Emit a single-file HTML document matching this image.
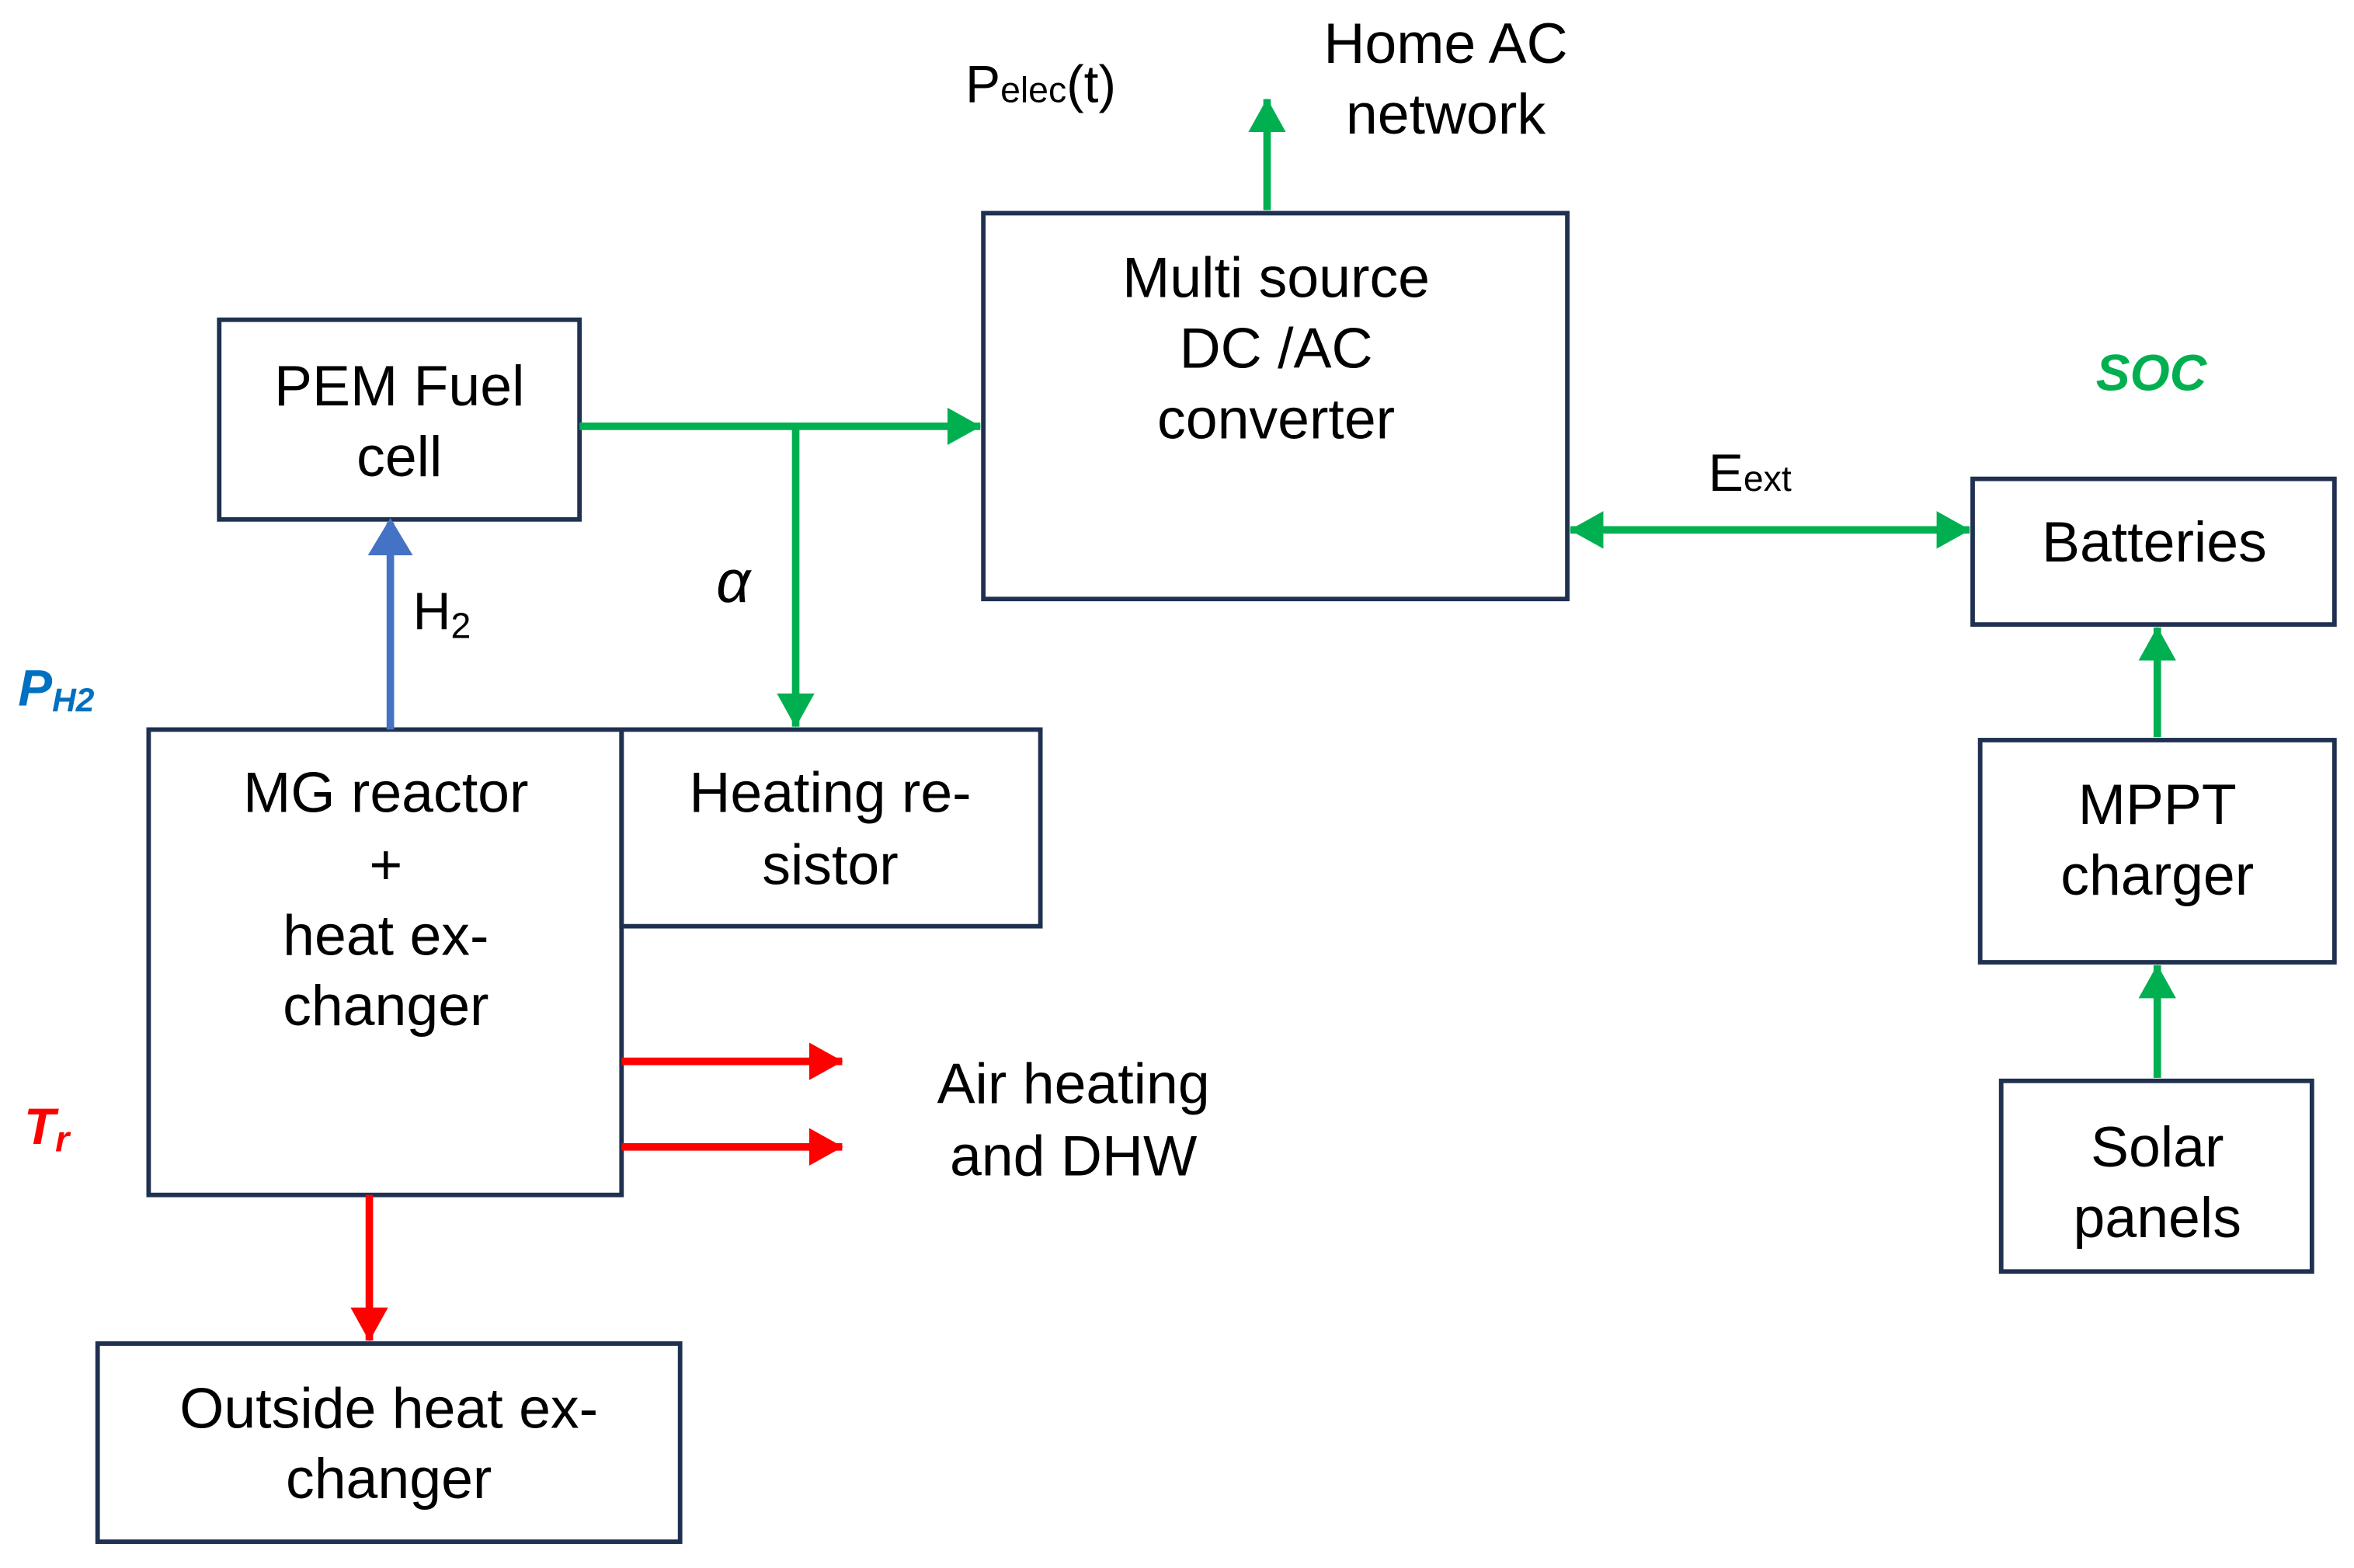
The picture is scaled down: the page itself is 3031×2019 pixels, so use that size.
<!DOCTYPE html>
<html><head><meta charset="utf-8"><style>html,body{margin:0;padding:0;background:#fff}svg{display:block}text{font-family:"Liberation Sans",sans-serif;fill:#000}</style></head>
<body>
<svg width="3031" height="2019" viewBox="0 0 1568 1044.5" xmlns="http://www.w3.org/2000/svg">
<defs>
<marker id="g" markerWidth="5" markerHeight="5" refX="4.4" refY="2.5" orient="auto" markerUnits="strokeWidth"><path d="M0,0 L4.5,2.5 L0,5 z" fill="#00b050"/></marker>
<marker id="gs" markerWidth="5" markerHeight="5" refX="0.6" refY="2.5" orient="auto" markerUnits="strokeWidth"><path d="M5,0 L0.5,2.5 L5,5 z" fill="#00b050"/></marker>
<marker id="b" markerWidth="5" markerHeight="6" refX="4.4" refY="3" orient="auto" markerUnits="strokeWidth"><path d="M0,0 L5,3 L0,6 z" fill="#4472c4"/></marker>
<marker id="r" markerWidth="5" markerHeight="5" refX="4.4" refY="2.5" orient="auto" markerUnits="strokeWidth"><path d="M0,0 L4.5,2.5 L0,5 z" fill="#ff0000"/></marker>
</defs>
<g fill="none" stroke="#1f3050" stroke-width="3">
<rect x="146" y="213" width="240" height="133"/>
<rect x="655" y="142" width="389" height="257"/>
<rect x="1314" y="319" width="241" height="97"/>
<rect x="1319" y="493" width="236" height="148"/>
<rect x="1333" y="720" width="207" height="127"/>
<rect x="99" y="486" width="315" height="310"/>
<rect x="414" y="486" width="279" height="131"/>
<rect x="65" y="895" width="388" height="132"/>
</g>
<g stroke="#00b050" stroke-width="5" fill="none">
<line x1="386" y1="284" x2="653" y2="284" marker-end="url(#g)"/>
<line x1="530" y1="284" x2="530" y2="484" marker-end="url(#g)"/>
<line x1="844" y1="140" x2="844" y2="66" marker-end="url(#g)"/>
<line x1="1046" y1="353" x2="1312" y2="353" marker-end="url(#g)" marker-start="url(#gs)"/>
<line x1="1437" y1="491" x2="1437" y2="418" marker-end="url(#g)"/>
<line x1="1437" y1="718" x2="1437" y2="643" marker-end="url(#g)"/>
</g>
<line x1="260" y1="486" x2="260" y2="348" stroke="#4472c4" stroke-width="5" marker-end="url(#b)"/>
<g stroke="#ff0000" stroke-width="5">
<line x1="414" y1="707" x2="561" y2="707" marker-end="url(#r)"/>
<line x1="414" y1="764" x2="561" y2="764" marker-end="url(#r)"/>
<line x1="246" y1="796" x2="246" y2="893" marker-end="url(#r)"/>
</g>
<g font-size="38" text-anchor="middle">
<text x="266" y="270">PEM Fuel</text><text x="266" y="317">cell</text>
<text x="850" y="198">Multi source</text><text x="850" y="245">DC /AC</text><text x="850" y="292">converter</text>
<text x="1435" y="374">Batteries</text>
<text x="1437" y="549">MPPT</text><text x="1437" y="596">charger</text>
<text x="1437" y="777">Solar</text><text x="1437" y="824">panels</text>
<text x="257" y="541">MG reactor</text><text x="257" y="589">+</text><text x="257" y="636">heat ex-</text><text x="257" y="683">changer</text>
<text x="553" y="541">Heating re-</text><text x="553" y="589">sistor</text>
<text x="259" y="951">Outside heat ex-</text><text x="259" y="998">changer</text>
<text x="715" y="735">Air heating</text><text x="715" y="783">and DHW</text>
<text x="963" y="42">Home AC</text><text x="963" y="89">network</text>
</g>
<text x="643" y="68" font-size="35">P<tspan font-size="24">elec</tspan>(t)</text>
<text x="1138" y="327" font-size="35">E<tspan font-size="24">ext</tspan></text>
<text x="275" y="419" font-size="35">H<tspan font-size="24" dy="6">2</tspan></text>
<text x="477" y="401" font-size="40" font-style="italic" font-family="Liberation Serif,serif">α</text>
<text x="1433" y="260" font-size="34" font-weight="bold" font-style="italic" text-anchor="middle" style="fill:#00b050">SOC</text>
<text x="12" y="470" font-size="34" font-weight="bold" font-style="italic" style="fill:#0070c0">P<tspan font-size="22" dy="4">H2</tspan></text>
<text x="16" y="762" font-size="34" font-weight="bold" font-style="italic" style="fill:#ff0000">T<tspan font-size="24" dy="5">r</tspan></text>
</svg>
</body></html>
